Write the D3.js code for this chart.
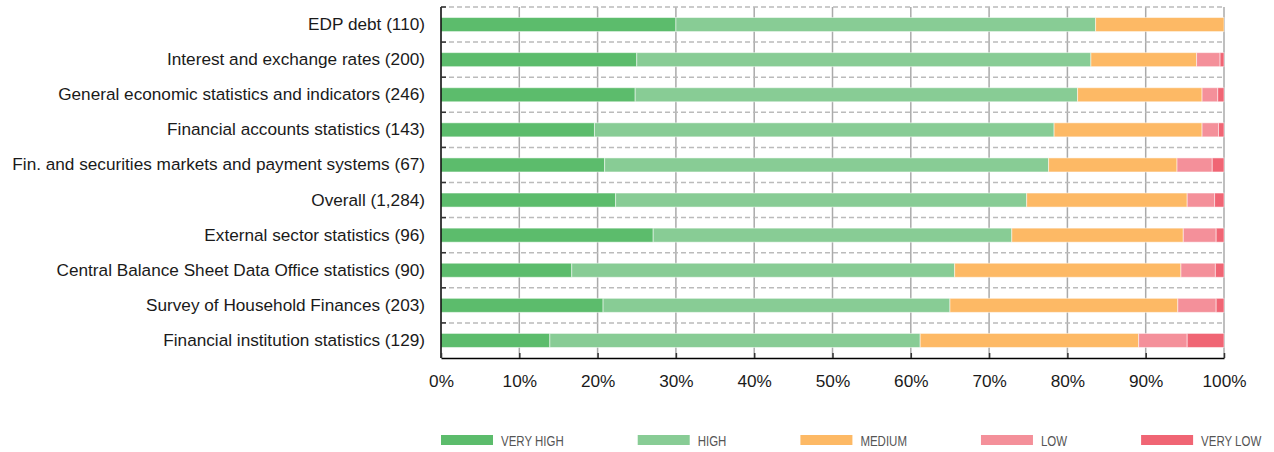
<!DOCTYPE html>
<html>
<head>
<meta charset="utf-8">
<script src="https://cdn.jsdelivr.net/npm/d3@7"></script>
<style>
  body { margin: 0; background: #fff; }
  svg { display: block; font-family: "Liberation Sans", Arial, Helvetica, sans-serif; }
  .domain { stroke: #000; stroke-width: 1.5; }
</style>
</head>
<body>
<script>
// Categories (top to bottom) and share of answers per level, in %
var categories = [
  "EDP debt (110)",
  "Interest and exchange rates (200)",
  "General economic statistics and indicators (246)",
  "Financial accounts statistics (143)",
  "Fin. and securities markets and payment systems (67)",
  "Overall (1,284)",
  "External sector statistics (96)",
  "Central Balance Sheet Data Office statistics (90)",
  "Survey of Household Finances (203)",
  "Financial institution statistics (129)"
];
var levels = ["VERY HIGH", "HIGH", "MEDIUM", "LOW", "VERY LOW"];
var veryHigh = [30.0, 25.0, 24.8, 19.6, 20.9, 22.3, 27.1, 16.7, 20.7, 13.9];
var high     = [53.6, 58.0, 56.5, 58.7, 56.7, 52.5, 45.8, 48.9, 44.3, 47.3];
var medium   = [16.4, 13.5, 15.9, 18.9, 16.4, 20.5, 21.9, 28.9, 29.1, 27.9];
var low      = [ 0.0,  3.0,  2.0,  2.1,  4.5,  3.5,  4.2,  4.4,  4.9,  6.2];
var veryLow  = [ 0.0,  0.5,  0.8,  0.7,  1.5,  1.2,  1.0,  1.1,  1.0,  4.7];
var xTicks = [0, 10, 20, 30, 40, 50, 60, 70, 80, 90, 100];

var colors = ["#5cbc6c", "#88cc95", "#fdb965", "#f4909a", "#f06574"];

// Build table for stacking
var series = [veryHigh, high, medium, low, veryLow];
var table = categories.map(function(c, i) {
  var row = {cat: c};
  levels.forEach(function(l, j) { row[l] = series[j][i]; });
  return row;
});
var stacked = d3.stack().keys(levels)(table);

var margin = {top: 7, right: 50, bottom: 94, left: 441},
    width = 1274 - margin.left - margin.right,
    height = 452 - margin.top - margin.bottom;

var svg = d3.select("body").append("svg")
    .attr("width", 1274)
    .attr("height", 452);
var g = svg.append("g")
    .attr("transform", "translate(" + margin.left + "," + margin.top + ")");

var x = d3.scaleLinear().domain([0, 100]).range([0, width]);
var y = d3.scaleBand().domain(categories).range([0, height])
    .paddingInner(0.6).paddingOuter(0.3);
var step = y.step();

// Vertical gridlines
g.append("g").selectAll("line")
  .data(xTicks.slice(1))
  .enter().append("line")
  .attr("x1", d => x(d)).attr("x2", d => x(d))
  .attr("y1", 0).attr("y2", height)
  .attr("stroke", "#aaaaaa")
  .attr("stroke-width", 1.5);

// Horizontal dashed lines at band boundaries
var bounds = categories.map(c => y(c) - step * 0.3);
g.append("g").selectAll("line")
  .data(bounds)
  .enter().append("line")
  .attr("x1", 0).attr("x2", width)
  .attr("y1", d => d).attr("y2", d => d)
  .attr("stroke", "#bbbbbb")
  .attr("stroke-width", 1.5)
  .attr("stroke-dasharray", "5,3");

// Bars
g.append("g").selectAll("g")
  .data(stacked)
  .enter().append("g")
  .attr("fill", (d, i) => colors[i])
  .selectAll("rect")
  .data(d => d)
  .enter().append("rect")
  .attr("x", d => x(d[0]))
  .attr("y", d => y(d.data.cat))
  .attr("width", d => x(d[1]) - x(d[0]))
  .attr("height", y.bandwidth())
  .attr("stroke", "rgba(255,255,255,0.5)")
  .attr("stroke-width", 1);

// Left axis (labels) and inward ticks at band boundaries
var yAxis = g.append("g")
  .call(d3.axisLeft(y).tickSize(0).tickPadding(16));
yAxis.selectAll("text")
  .style("font-size", "17.2px")
  .attr("fill", "#1a1a1a");
yAxis.select(".domain").attr("d", "M0,0V" + height);

g.append("g").selectAll("line")
  .data(bounds)
  .enter().append("line")
  .attr("x1", 0).attr("x2", 5)
  .attr("y1", d => d).attr("y2", d => d)
  .attr("stroke", "#333")
  .attr("stroke-width", 1.5);

// Bottom axis
var xAxis = g.append("g")
  .attr("transform", "translate(0," + height + ")")
  .call(d3.axisBottom(x).tickValues(xTicks).tickFormat(d => d + "%")
    .tickSizeInner(-5).tickSizeOuter(0).tickPadding(17));
xAxis.selectAll("text")
  .style("font-size", "17.2px")
  .attr("fill", "#1a1a1a");
xAxis.selectAll(".tick line").attr("stroke", "#333").attr("stroke-width", 1.5);

// Legend (condensed look via horizontal scale)
var legend = svg.append("g").attr("transform", "translate(441,435)");
var lx = 0, squeeze = 0.82;
levels.forEach(function(l, i) {
  var item = legend.append("g").attr("transform", "translate(" + lx + ",0)");
  item.append("rect")
    .attr("width", 52).attr("height", 10)
    .attr("fill", colors[i]);
  var t = item.append("text")
    .attr("transform", "translate(60,10.5) scale(" + squeeze + ",1)")
    .style("font-size", "14px")
    .attr("fill", "#555")
    .text(l);
  lx += 60 + t.node().getComputedTextLength() * squeeze + 74;
});
</script>
</body>
</html>
